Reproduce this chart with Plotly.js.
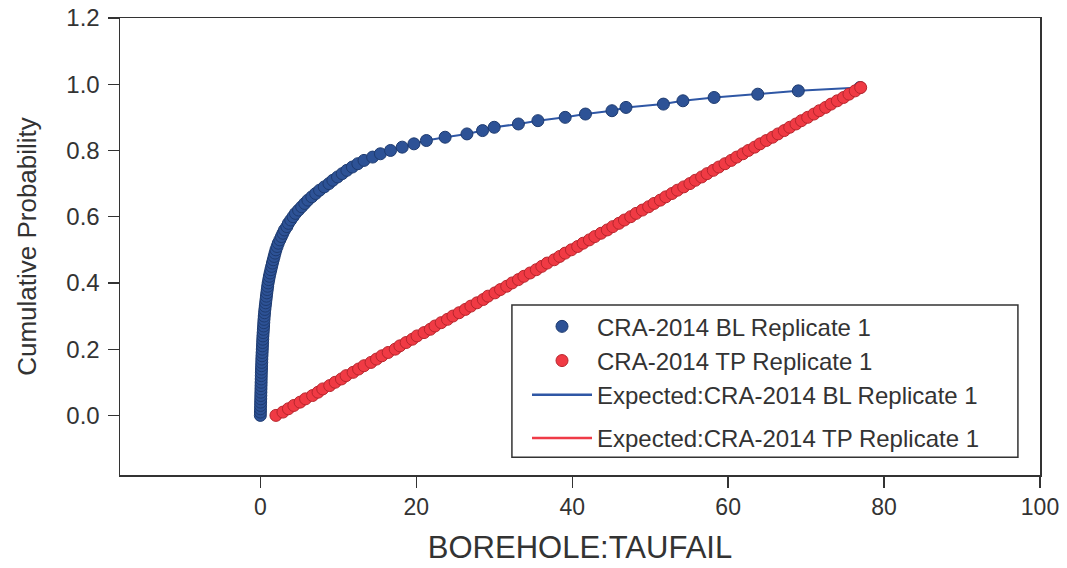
<!DOCTYPE html>
<html>
<head>
<meta charset="utf-8">
<script src="https://cdn.plot.ly/plotly-3.0.1.min.js"></script>
<style>
html,body{margin:0;padding:0;background:#fff;}
#chart{width:1067px;height:568px;}
</style>
</head>
<body>
<div id="chart"></div>
<script>
// Cumulative probability levels (ECDF, 100 vectors)
const probBL = [0.00,0.01,0.02,0.03,0.04,0.05,0.06,0.07,0.08,0.09,
  0.10,0.11,0.12,0.13,0.14,0.15,0.16,0.17,0.18,0.19,
  0.20,0.21,0.22,0.23,0.24,0.25,0.26,0.27,0.28,0.29,
  0.30,0.31,0.32,0.33,0.34,0.35,0.36,0.37,0.38,0.39,
  0.40,0.41,0.42,0.43,0.44,0.45,0.46,0.47,0.48,0.49,
  0.50,0.51,0.52,0.53,0.54,0.55,0.56,0.57,0.58,0.59,
  0.60,0.61,0.62,0.63,0.64,0.65,0.66,0.67,0.68,0.69,
  0.70,0.71,0.72,0.73,0.74,0.75,0.76,0.77,0.78,0.79,
  0.80,0.81,0.82,0.83,0.84,0.85,0.86,0.87,0.88,0.89,
  0.90,0.91,0.92,0.93,0.94,0.95,0.96,0.97,0.98,0.99];
const probTP = probBL.slice();

// BOREHOLE:TAUFAIL values, CRA-2014 BL Replicate 1 (sorted)
const taufailBL = [0.00,0.01,0.02,0.03,0.04,0.05,0.06,0.07,0.08,0.09,
  0.10,0.11,0.12,0.13,0.15,0.16,0.18,0.19,0.21,0.23,
  0.25,0.27,0.29,0.31,0.33,0.36,0.39,0.42,0.44,0.47,
  0.50,0.54,0.58,0.63,0.68,0.73,0.78,0.83,0.89,0.94,
  1.00,1.08,1.16,1.25,1.35,1.45,1.55,1.66,1.77,1.88,
  2.00,2.15,2.30,2.50,2.70,2.90,3.10,3.40,3.60,3.90,
  4.20,4.50,4.90,5.30,5.70,6.10,6.60,7.10,7.60,8.20,
  8.80,9.30,9.90,10.5,11.1,11.8,12.5,13.3,14.4,15.4,
  16.7,18.2,19.7,21.3,23.7,26.5,28.5,30.0,33.1,35.6,
  39.1,41.7,45.1,46.9,51.7,54.2,58.2,63.8,69.0,76.9];

// BOREHOLE:TAUFAIL values, CRA-2014 TP Replicate 1 (sorted)
const taufailTP = [2.0,2.9,3.6,4.3,5.1,5.8,6.7,7.4,8.0,8.9,
  9.6,10.4,11.0,11.9,12.6,13.3,14.2,14.9,15.6,16.4,
  17.3,17.9,18.7,19.5,20.1,21.0,21.8,22.4,23.2,24.0,
  24.7,25.5,26.3,27.0,27.8,28.6,29.2,30.1,30.8,31.6,
  32.3,33.1,33.8,34.6,35.4,36.1,36.8,37.7,38.4,39.1,
  39.9,40.7,41.4,42.2,42.9,43.7,44.5,45.2,46.0,46.7,
  47.5,48.2,49.0,49.8,50.5,51.3,52.0,52.8,53.5,54.3,
  55.1,55.8,56.6,57.3,58.1,58.8,59.6,60.4,61.1,61.9,
  62.6,63.4,64.1,64.9,65.7,66.4,67.2,67.9,68.7,69.4,
  70.2,71.0,71.7,72.5,73.2,74.0,74.8,75.5,76.3,77.0];

const seriesNames = ["CRA-2014 BL Replicate 1","CRA-2014 TP Replicate 1",
  "Expected:CRA-2014 BL Replicate 1","Expected:CRA-2014 TP Replicate 1"];
const xTicks = [0,20,40,60,80,100];
const yTicks = [0.0,0.2,0.4,0.6,0.8,1.0,1.2];

const blue = "#2d5296", blueEdge = "#1e3b70", blueLine = "#2f57a5";
const red = "#f03a44", redEdge = "#b8262d", redLine = "#ef3b47";

const traces = [
  {x: taufailBL, y: probBL, type:"scatter", mode:"lines", name: seriesNames[2],
   line:{color: blueLine, width:2}, legendgroup:"g1", showlegend:false},
  {x: taufailBL, y: probBL, type:"scatter", mode:"markers", name: seriesNames[0],
   marker:{color: blue, size:12, line:{color: blueEdge, width:1}}, legendgroup:"g1", legendrank:1},
  {x: taufailTP, y: probTP, type:"scatter", mode:"lines", name: seriesNames[3],
   line:{color: redLine, width:2}, legendgroup:"g2", showlegend:false},
  {x: taufailTP, y: probTP, type:"scatter", mode:"markers", name: seriesNames[1],
   marker:{color: red, size:12, line:{color: redEdge, width:1}}, legendgroup:"g1", legendrank:2},
  // legend entries for the expected lines (listed after the markers)
  {x:[null], y:[null], type:"scatter", mode:"lines", name: seriesNames[2],
   line:{color: blueLine, width:2.5}, legendgroup:"g1", legendrank:3},
  {x:[null], y:[null], type:"scatter", mode:"lines", name: seriesNames[3],
   line:{color: redLine, width:2.5}, legendgroup:"g2", legendrank:4}
];

const regular = "Liberation Sans, Arial, sans-serif";
const narrow = "Liberation Sans Narrow, Arial Narrow, Liberation Sans, sans-serif";

const layout = {
  width:1067, height:568,
  margin:{l:120, r:27, t:18, b:93},
  paper_bgcolor:"#fff", plot_bgcolor:"#fff",
  showlegend:true,
  xaxis:{
    range:[-18,100], tickvals:xTicks, ticktext:xTicks.map(String),
    showgrid:false, zeroline:false,
    showline:true, mirror:true, linecolor:"#333", linewidth:1.5,
    ticks:"outside", ticklen:11, tickwidth:1.3, tickcolor:"#333",
    tickfont:{family:narrow, size:23, color:"#333"},
    title:{text:"BOREHOLE:TAUFAIL", font:{family:narrow, size:31, color:"#333"}, standoff:17},
    automargin:false
  },
  yaxis:{
    range:[-0.18,1.2], tickvals:yTicks, ticktext:yTicks.map(v=>v.toFixed(1)),
    showgrid:false, zeroline:false,
    showline:true, mirror:true, linecolor:"#333", linewidth:1.5,
    ticks:"outside", ticklen:11, tickwidth:1.3, tickcolor:"#333",
    tickfont:{family:regular, size:24, color:"#333"},
    ticklabelstandoff:3,
    title:{text:"Cumulative Probability", font:{family:regular, size:26, color:"#333"}, standoff:22},
    automargin:false
  },
  legend:{
    x:0.4424, y:0.3736, xanchor:"left", yanchor:"top",
    bgcolor:"rgba(0,0,0,0)", borderwidth:0,
    font:{family:regular, size:24, color:"#333"},
    tracegroupgap:9, itemwidth:60, traceorder:"grouped"
  },
  shapes:[{type:"rect", xref:"paper", yref:"paper",
    x0:0.426, x1:0.976, y0:0.039, y1:0.372,
    line:{color:"#333", width:1.5}, fillcolor:"rgba(0,0,0,0)"}]
};

Plotly.newPlot("chart", traces, layout, {displayModeBar:false, staticPlot:true});
</script>
</body>
</html>
